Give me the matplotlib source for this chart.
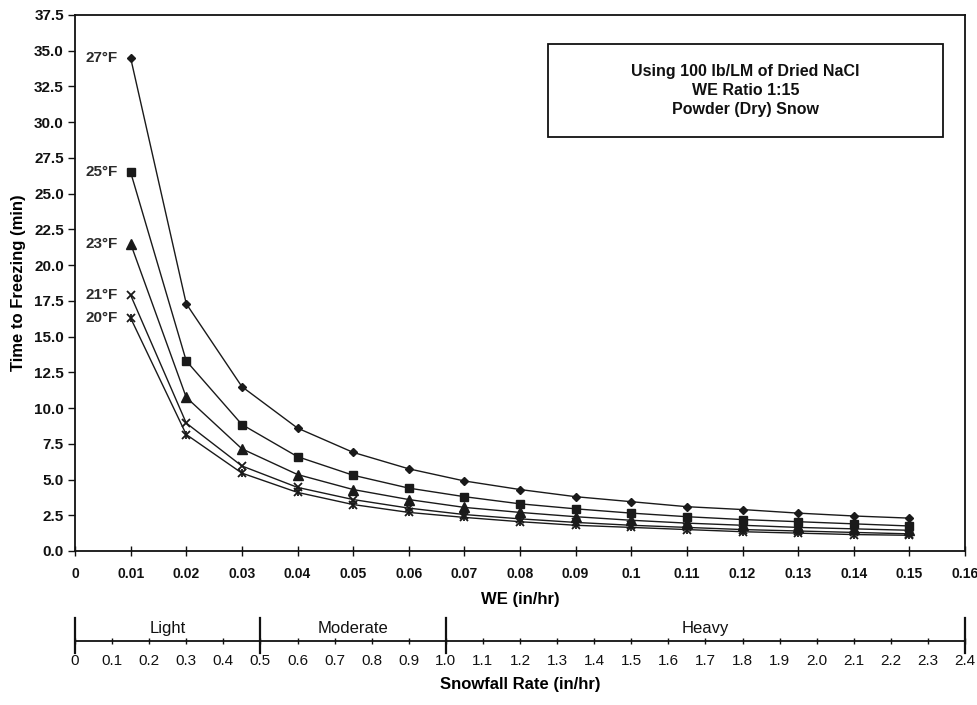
import matplotlib
matplotlib.use("Agg")
import matplotlib.pyplot as plt
import matplotlib.transforms as mtransforms
from matplotlib import font_manager

# ---------------- data ----------------
we = [0.01, 0.02, 0.03, 0.04, 0.05, 0.06, 0.07, 0.08, 0.09, 0.10,
      0.11, 0.12, 0.13, 0.14, 0.15]
t27 = [34.5, 17.3, 11.5, 8.6, 6.9, 5.75, 4.9, 4.3, 3.8, 3.45, 3.1, 2.9, 2.65, 2.45, 2.3]
t25 = [26.5, 13.3, 8.85, 6.6, 5.3, 4.4, 3.8, 3.3, 2.95, 2.65, 2.4, 2.2, 2.05, 1.9, 1.75]
t23 = [21.5, 10.75, 7.15, 5.35, 4.3, 3.6, 3.05, 2.7, 2.4, 2.15, 1.95, 1.8, 1.65, 1.55, 1.45]
t21 = [17.9, 8.95, 5.95, 4.45, 3.6, 3.0, 2.55, 2.25, 2.0, 1.8, 1.65, 1.5, 1.4, 1.3, 1.2]
t20 = [16.3, 8.15, 5.45, 4.1, 3.25, 2.7, 2.35, 2.05, 1.8, 1.65, 1.5, 1.35, 1.25, 1.15, 1.1]
series_labels = ["27°F", "25°F", "23°F", "21°F", "20°F"]

we_ticks = [0, 0.01, 0.02, 0.03, 0.04, 0.05, 0.06, 0.07, 0.08, 0.09, 0.10,
            0.11, 0.12, 0.13, 0.14, 0.15, 0.16]
we_tick_labels = ["0", "0.01", "0.02", "0.03", "0.04", "0.05", "0.06", "0.07", "0.08",
                  "0.09", "0.1", "0.11", "0.12", "0.13", "0.14", "0.15", "0.16"]
y_ticks = [0, 2.5, 5, 7.5, 10, 12.5, 15, 17.5, 20, 22.5, 25, 27.5, 30, 32.5, 35, 37.5]

snow_ticks = [0, 0.1, 0.2, 0.3, 0.4, 0.5, 0.6, 0.7, 0.8, 0.9, 1.0, 1.1, 1.2, 1.3, 1.4,
              1.5, 1.6, 1.7, 1.8, 1.9, 2.0, 2.1, 2.2, 2.3, 2.4]
snow_tick_labels = ["0", "0.1", "0.2", "0.3", "0.4", "0.5", "0.6", "0.7", "0.8", "0.9",
                    "1.0", "1.1", "1.2", "1.3", "1.4", "1.5", "1.6", "1.7", "1.8", "1.9",
                    "2.0", "2.1", "2.2", "2.3", "2.4"]
snow_dividers = [0, 0.5, 1.0, 2.4]
class_names = ["Light", "Moderate", "Heavy"]
class_centers = [0.25, 0.75, 1.7]

note_lines = ["Using 100 lb/LM of Dried NaCl", "WE Ratio 1:15", "Powder (Dry) Snow"]

# ---------------- fonts ----------------
plt.rcParams["font.family"] = ["Liberation Sans", "DejaVu Sans"]

fig = plt.figure(figsize=(9.77, 7.05), dpi=100)
fig.patch.set_facecolor("white")

# ---------------- main axes ----------------
ax = fig.add_axes([75 / 977, 1 - 551 / 705, 890 / 977, 536 / 705])
lc = "#1a1a1a"
ax.plot(we, t27, color=lc, lw=1.0, marker="D", ms=4.5, mfc=lc, mec=lc)
ax.plot(we, t25, color=lc, lw=1.0, marker="s", ms=6, mfc=lc, mec=lc)
ax.plot(we, t23, color=lc, lw=1.0, marker="^", ms=6.5, mfc=lc, mec=lc)
ax.plot(we, t21, color=lc, lw=1.0, marker="x", ms=6, mew=1.3, mfc=lc, mec=lc)
ax.plot(we, t20, color=lc, lw=1.0, marker="x", ms=6, mew=1.3, mfc=lc, mec=lc)
ax.plot(we, t20, ls="none", marker="|", ms=6, mew=1.3, mec=lc)

for lab, vals in zip(series_labels, [t27, t25, t23, t21, t20]):
    ax.annotate(lab, xy=(we[0], vals[0]), xytext=(-9, 0), textcoords="offset points",
                ha="right", va="center", fontsize=11, fontweight="bold", color="#2a2a2a")

ax.set_xlim(0, 0.16)
ax.set_ylim(0, 37.5)
ax.set_xticks(we_ticks)
ax.set_xticklabels(we_tick_labels, fontweight="bold", fontsize=10)
ax.set_yticks(y_ticks)
ax.set_yticklabels([f"{v:.1f}" for v in y_ticks], fontweight="bold", fontsize=11)
ax.tick_params(axis="x", direction="inout", length=7, width=1, pad=8, colors="#111")
ax.tick_params(axis="y", direction="out", length=5, width=1, pad=3, colors="#111")
for s in ax.spines.values():
    s.set_linewidth(1.3)
    s.set_color("#111")
ax.set_ylabel("Time to Freezing (min)", fontsize=12, fontweight="bold", labelpad=6)
ax.set_xlabel("WE (in/hr)", fontsize=12, fontweight="bold", labelpad=8)

# note box
bx0, by0, bx1, by1 = (548 - 75) / 890, (551 - 137) / 536, (943 - 75) / 890, (551 - 44) / 536
ax.text((bx0 + bx1) / 2, (by0 + by1) / 2, "\n".join(note_lines), transform=ax.transAxes,
        ha="center", va="center", fontsize=11.5, fontweight="bold",
        linespacing=1.35, color="#111")
box = plt.Rectangle((bx0, by0), bx1 - bx0, by1 - by0,
                    transform=ax.transAxes, fill=False, lw=1.3, ec="#111")
ax.add_patch(box)

# ---------------- snowfall rate scale ----------------
ax2 = fig.add_axes([75 / 977, 1 - 641 / 705, 890 / 977, 35 / 705])
ax2.set_xlim(0, 2.4)
ax2.set_ylim(0, 1)
for k in ["top", "left", "right"]:
    ax2.spines[k].set_visible(False)
ax2.spines["bottom"].set_linewidth(1.3)
ax2.spines["bottom"].set_color("#111")
ax2.set_yticks([])
ax2.patch.set_alpha(0)
ax2.set_xticks(snow_ticks)
ax2.set_xticklabels(snow_tick_labels, fontsize=11, color="#111")
ax2.tick_params(axis="x", direction="inout", length=5, width=1, pad=7, colors="#111")
trans = mtransforms.blended_transform_factory(ax2.transData, ax2.transAxes)
for d in snow_dividers:
    ax2.plot([d, d], [-12 / 35, 23 / 35], transform=trans, color="#111", lw=1.6, clip_on=False)
for name, c in zip(class_names, class_centers):
    ax2.text(c, 0.37, name, transform=trans, ha="center", va="center", fontsize=12, color="#111")
ax2.set_xlabel("Snowfall Rate (in/hr)", fontsize=12, fontweight="bold", labelpad=6)

fig.savefig("out.png", dpi=100, facecolor="white")
